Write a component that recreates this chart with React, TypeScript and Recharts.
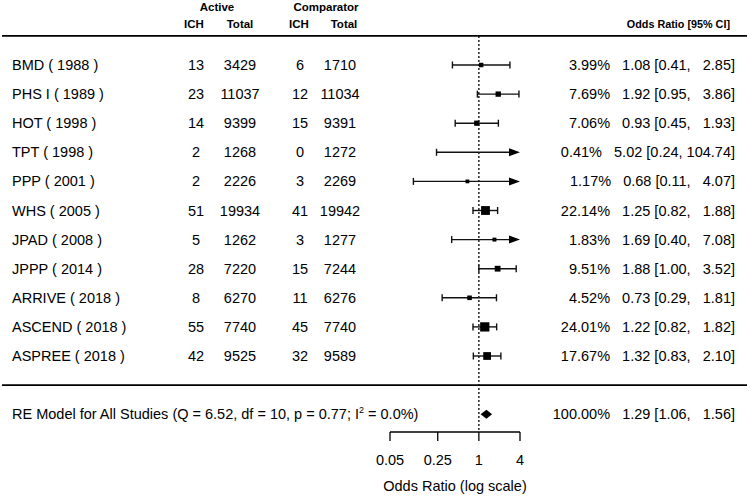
import React from "react"
import { ComposedChart, XAxis, YAxis, Scatter, ReferenceLine } from "recharts"

// study rows, top to bottom
const studies = [
  "BMD ( 1988 )",
  "PHS I ( 1989 )",
  "HOT ( 1998 )",
  "TPT ( 1998 )",
  "PPP ( 2001 )",
  "WHS ( 2005 )",
  "JPAD ( 2008 )",
  "JPPP ( 2014 )",
  "ARRIVE ( 2018 )",
  "ASCEND ( 2018 )",
  "ASPREE ( 2018 )",
]
const activeIch = [13, 23, 14, 2, 2, 51, 5, 28, 8, 55, 42]
const activeTotal = [3429, 11037, 9399, 1268, 2226, 19934, 1262, 7220, 6270, 7740, 9525]
const compIch = [6, 12, 15, 0, 3, 41, 3, 15, 11, 45, 32]
const compTotal = [1710, 11034, 9391, 1272, 2269, 19942, 1277, 7244, 6276, 7740, 9589]
const weights = [3.99, 7.69, 7.06, 0.41, 1.17, 22.14, 1.83, 9.51, 4.52, 24.01, 17.67]
const oddsRatio = [1.08, 1.92, 0.93, 5.02, 0.68, 1.25, 1.69, 1.88, 0.73, 1.22, 1.32]
const ciLower = [0.41, 0.95, 0.45, 0.24, 0.11, 0.82, 0.4, 1.0, 0.29, 0.82, 0.83]
const ciUpper = [2.85, 3.86, 1.93, 104.74, 4.07, 1.88, 7.08, 3.52, 1.81, 1.82, 2.1]

// random effects summary
const summaryEst = 1.29
const summaryLower = 1.06
const summaryUpper = 1.56
const summaryWeight = 100
const hetQ = "6.52"
const hetDf = "10"
const hetP = "0.77"
const hetI2 = "0.0"

const xTicks = [0.05, 0.25, 1, 4]

const FONT = "'Liberation Sans', Arial, Helvetica, sans-serif"
const X_MIN = 0.05
const X_MAX = 4
const HEADER_ROW = -1
const RULE_ROW = 11
const SUMMARY_ROW = 12
const ROW_TOP = -2.234
const ROW_BOTTOM = 12.612

const pointData = studies.map((s, i) => ({ row: i, or: oddsRatio[i], w: weights[i] }))
const rowTicks = [HEADER_ROW, ...studies.map((s, i) => i), RULE_ROW, SUMMARY_ROW]

const fmt = (v: number) => v.toFixed(2)
const annot = (w: number, est: number, lo: number, hi: number) =>
  `${fmt(w)}%   ${fmt(est)} [${fmt(lo)}, ${fmt(hi).padStart(6, " ")}]`

const txt = { fontFamily: FONT, fill: "#000" }

const RowTick = (props: any) => {
  const { y, payload } = props
  const r = payload.value
  if (r === HEADER_ROW) {
    const hb = { ...txt, fontWeight: "bold" as const, fontSize: 11.5 }
    return (
      <g>
        <line x1={2} x2={747} y1={y} y2={y} stroke="#000" strokeWidth={1.8} />
        <text x={217} y={y - 24.5} textAnchor="middle" {...hb}>Active</text>
        <text x={326} y={y - 24.5} textAnchor="middle" {...hb}>Comparator</text>
        <text x={194} y={y - 8} textAnchor="middle" {...hb}>ICH</text>
        <text x={240} y={y - 8} textAnchor="middle" {...hb}>Total</text>
        <text x={299} y={y - 8} textAnchor="middle" {...hb}>ICH</text>
        <text x={344} y={y - 8} textAnchor="middle" {...hb}>Total</text>
        <text x={730} y={y - 8} textAnchor="end" {...hb} fontSize={10.8}>Odds Ratio [95% CI]</text>
      </g>
    )
  }
  if (r === RULE_ROW) {
    return <line x1={2} x2={747} y1={y} y2={y} stroke="#000" strokeWidth={1.8} />
  }
  const base = { ...txt, fontSize: 14.5 }
  if (r === SUMMARY_ROW) {
    return (
      <g>
        <text x={12} y={y + 5} {...base}>
          {`RE Model for All Studies (Q = ${hetQ}, df = ${hetDf}, p = ${hetP}; I`}
          <tspan dy={-6} fontSize={9}>2</tspan>
          <tspan dy={6}>{` = ${hetI2}%)`}</tspan>
        </text>
        <text x={735} y={y + 5} textAnchor="end" style={{ whiteSpace: "pre" }} {...base}>
          {annot(summaryWeight, summaryEst, summaryLower, summaryUpper)}
        </text>
      </g>
    )
  }
  return (
    <g>
      <text x={12} y={y + 5} {...base}>{studies[r]}</text>
      <text x={196} y={y + 5} textAnchor="middle" {...base}>{activeIch[r]}</text>
      <text x={240} y={y + 5} textAnchor="middle" {...base}>{activeTotal[r]}</text>
      <text x={300} y={y + 5} textAnchor="middle" {...base}>{compIch[r]}</text>
      <text x={340} y={y + 5} textAnchor="middle" {...base}>{compTotal[r]}</text>
      <text x={735} y={y + 5} textAnchor="end" style={{ whiteSpace: "pre" }} {...base}>
        {annot(weights[r], oddsRatio[r], ciLower[r], ciUpper[r])}
      </text>
    </g>
  )
}

const XTick = (props: any) => {
  const { x, y, payload } = props
  return (
    <text x={x} y={y + 22} textAnchor="middle" fontSize={14.5} {...txt}>
      {payload.value}
    </text>
  )
}

// CI whisker with caps, arrow when cut off by the axis limit
const ciShape = (arrow: boolean) => (p: any) => {
  const { x1, y1, x2 } = p
  const y = y1
  const end = arrow ? x2 - 11 : x2
  return (
    <g>
      <line x1={x1} x2={end} y1={y} y2={y} stroke="#111" strokeWidth={1.4} />
      <line x1={x1} x2={x1} y1={y - 3.5} y2={y + 3.5} stroke="#111" strokeWidth={1.4} />
      {arrow ? (
        <polygon points={`${x2 - 11},${y - 4} ${x2},${y} ${x2 - 11},${y + 4}`} fill="#000" />
      ) : (
        <line x1={x2} x2={x2} y1={y - 3.5} y2={y + 3.5} stroke="#111" strokeWidth={1.4} />
      )}
    </g>
  )
}

const diamondShape = (p: any) => {
  const { x1, y1, x2 } = p
  const t =
    (Math.log(summaryEst) - Math.log(summaryLower)) /
    (Math.log(summaryUpper) - Math.log(summaryLower))
  const cx = x1 + (x2 - x1) * t
  return <polygon points={`${x1},${y1} ${cx},${y1 - 4.5} ${x2},${y1} ${cx},${y1 + 4.5}`} fill="#000" />
}

const Square = (p: any) => {
  const { cx, cy, payload } = p
  if (payload.or > X_MAX) return <g />
  const s = 3.5 + 0.24 * payload.w
  return <rect x={cx - s / 2} y={cy - s / 2} width={s} height={s} fill="#000" />
}

export default function App() {
  return (
    <div style={{ position: "absolute", left: 0, top: 0, width: 750, height: 497, background: "#fff" }}>
      <ComposedChart width={750} height={497} margin={{ top: 0, right: 230, bottom: 0, left: 0 }}>
        <XAxis
          type="number"
          dataKey="or"
          scale="log"
          domain={[X_MIN, X_MAX]}
          allowDataOverflow
          ticks={xTicks}
          interval={0}
          height={65}
          tickSize={9}
          axisLine={{ stroke: "#000", strokeWidth: 1.3 }}
          tickLine={{ stroke: "#000", strokeWidth: 1.3 }}
          tick={XTick}
          label={{
            value: "Odds Ratio (log scale)",
            position: "insideBottom",
            offset: 6,
            fill: "#000",
            fontSize: 14.5,
            fontFamily: FONT,
          }}
        />
        <YAxis
          yAxisId="rows"
          type="number"
          dataKey="row"
          reversed
          domain={[ROW_TOP, ROW_BOTTOM]}
          allowDataOverflow
          ticks={rowTicks}
          interval={0}
          width={390}
          axisLine={false}
          tickLine={false}
          tick={RowTick}
        />
        <ReferenceLine
          yAxisId="rows"
          segment={[{ x: 1, y: HEADER_ROW }, { x: 1, y: ROW_BOTTOM }]}
          stroke="#000"
          strokeWidth={1.3}
          strokeDasharray="2 2"
          ifOverflow="visible"
        />
        {studies.map((s, i) => (
          <ReferenceLine
            key={s}
            yAxisId="rows"
            segment={[
              { x: ciLower[i], y: i },
              { x: Math.min(ciUpper[i], X_MAX), y: i },
            ]}
            ifOverflow="visible"
            shape={ciShape(ciUpper[i] > X_MAX)}
          />
        ))}
        <ReferenceLine
          yAxisId="rows"
          segment={[
            { x: summaryLower, y: SUMMARY_ROW },
            { x: summaryUpper, y: SUMMARY_ROW },
          ]}
          ifOverflow="visible"
          shape={diamondShape}
        />
        <Scatter yAxisId="rows" data={pointData} shape={Square} isAnimationActive={false} />
      </ComposedChart>
    </div>
  )
}
